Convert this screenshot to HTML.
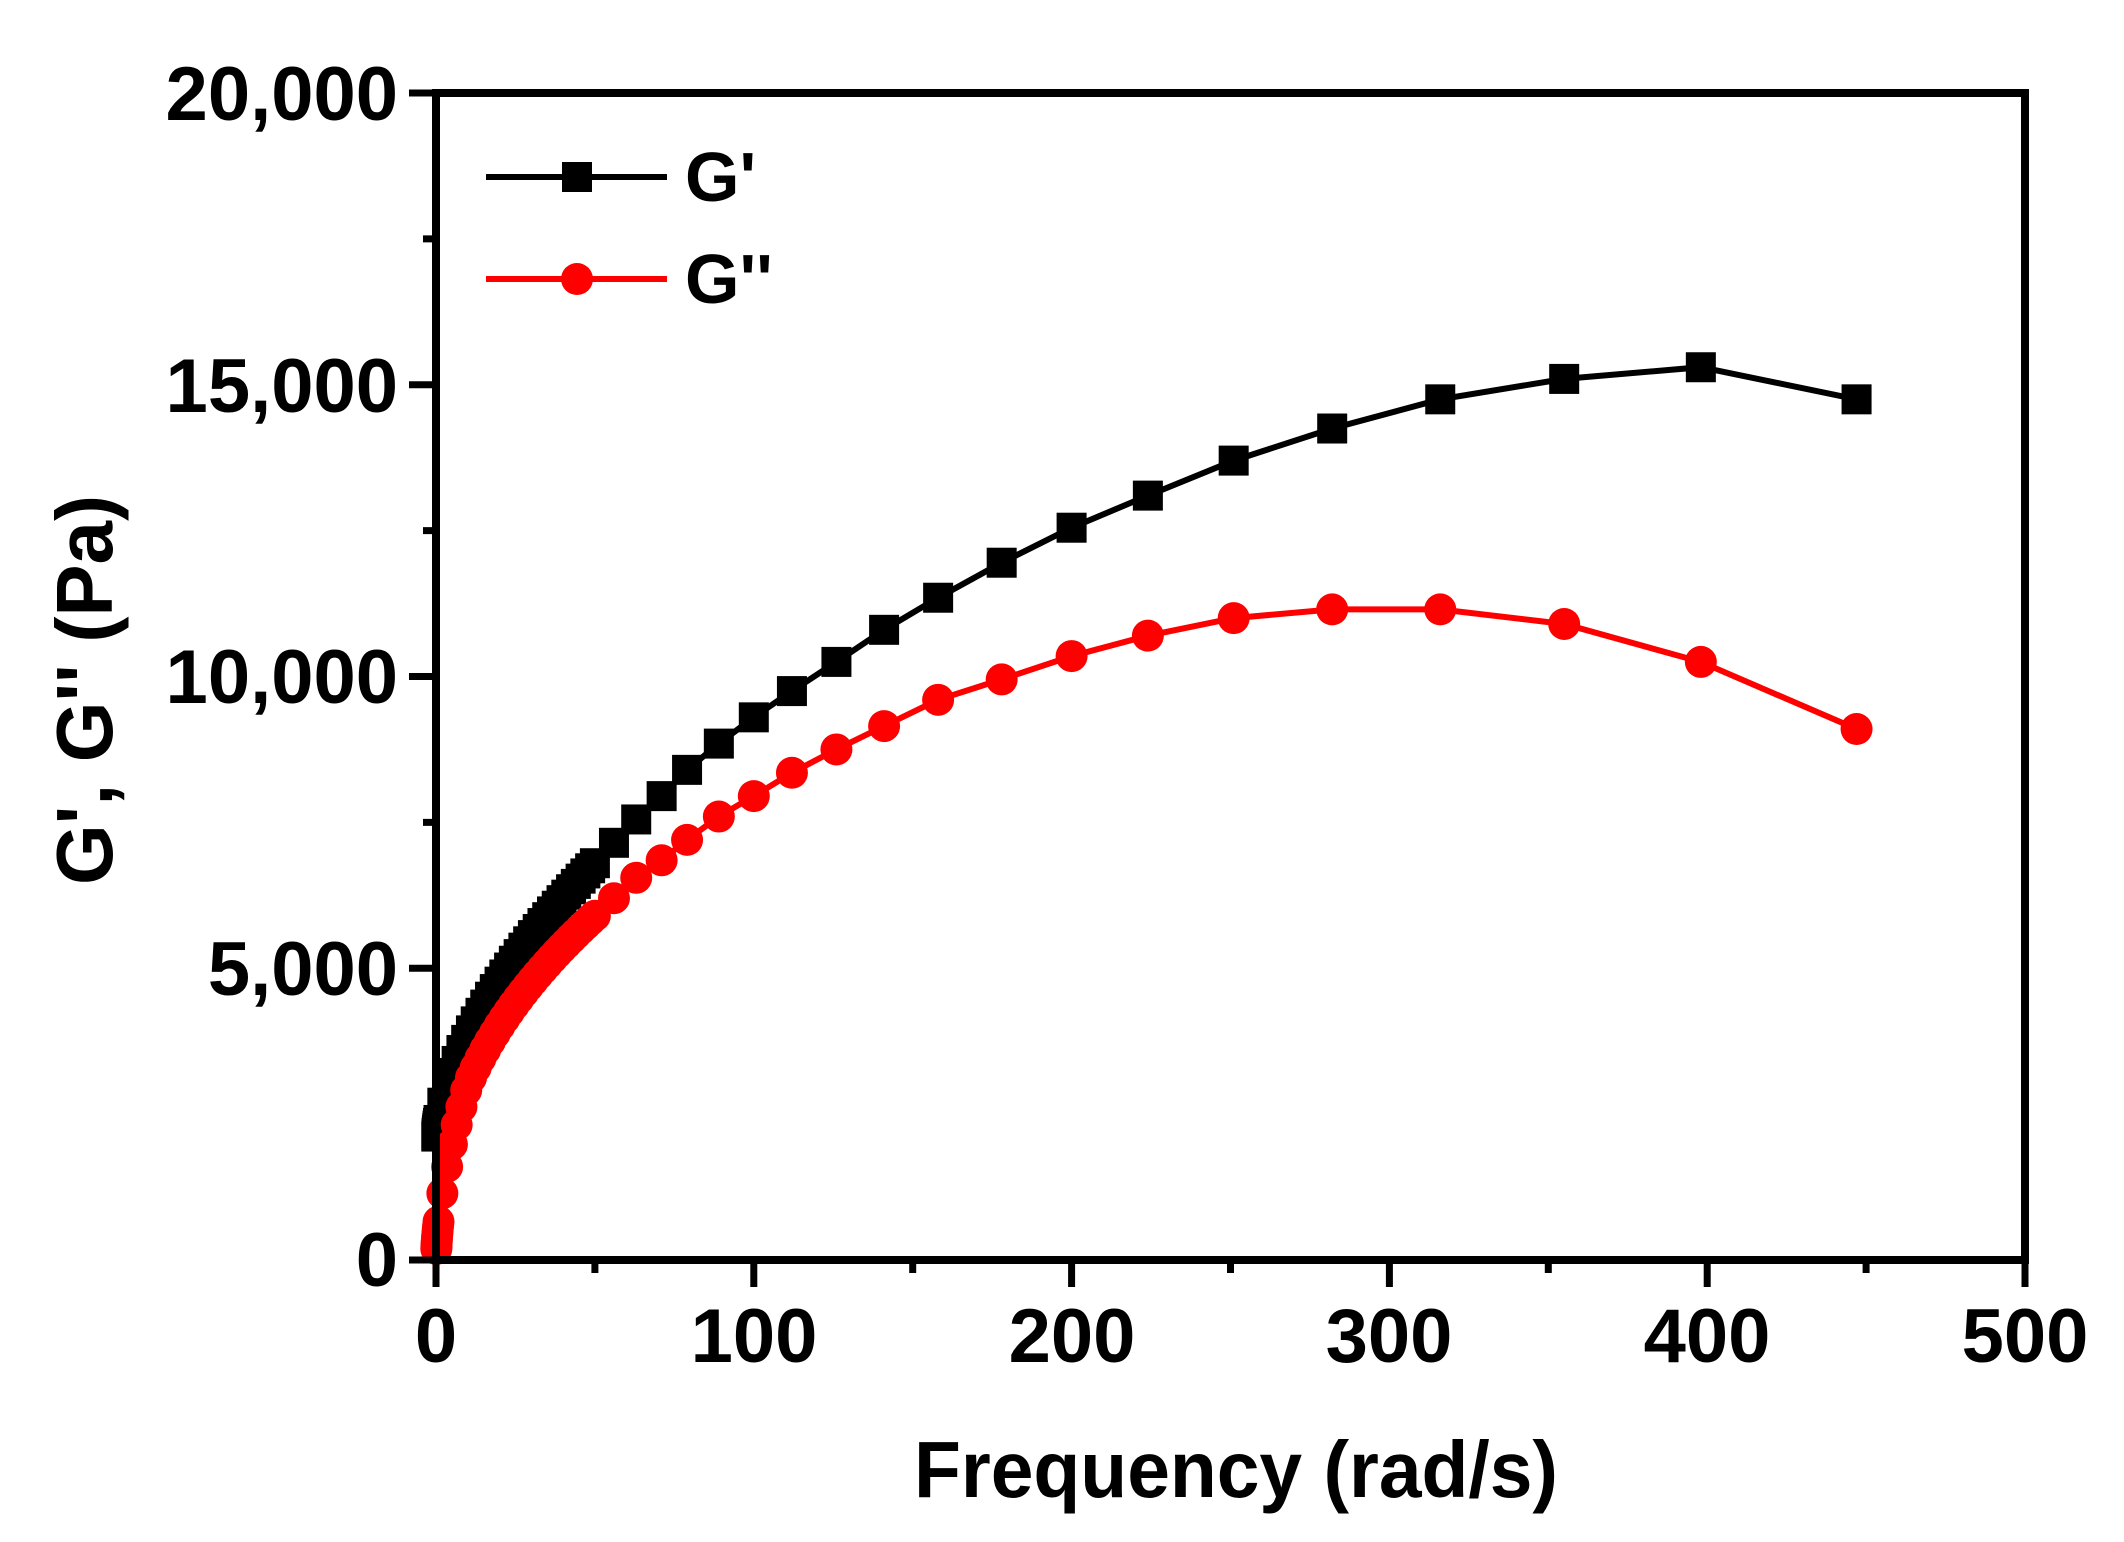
<!DOCTYPE html>
<html><head><meta charset="utf-8"><style>
html,body{margin:0;padding:0;background:#fff;}
svg{display:block;}
text{font-family:"Liberation Sans",Arial,sans-serif;font-weight:bold;fill:#000;}
</style></head><body>
<svg id="s" width="2124" height="1542" viewBox="0 0 2124 1542" xmlns="http://www.w3.org/2000/svg">
<g id="plot"></g>
<rect x="436" y="93" width="1589" height="1167" fill="none" stroke="#000" stroke-width="8"/>
<g id="ticks" stroke="#000" stroke-width="7"></g>
<g font-size="76" text-anchor="end">
<text x="398" y="1286">0</text>
<text x="398" y="995">5,000</text>
<text x="398" y="703">10,000</text>
<text x="398" y="412">15,000</text>
<text x="398" y="120">20,000</text>
</g>
<g font-size="76" text-anchor="middle">
<text x="436" y="1362">0</text>
<text x="754" y="1362">100</text>
<text x="1072" y="1362">200</text>
<text x="1389" y="1362">300</text>
<text x="1707" y="1362">400</text>
<text x="2025" y="1362">500</text>
</g>
<text x="1236" y="1497" font-size="80" text-anchor="middle" textLength="644" lengthAdjust="spacingAndGlyphs">Frequency (rad/s)</text>
<text transform="translate(112,690) rotate(-90)" font-size="80" text-anchor="middle" textLength="390" lengthAdjust="spacingAndGlyphs">G', G'' (Pa)</text>
<line x1="486" y1="177" x2="667" y2="177" stroke="#000" stroke-width="6"/>
<rect x="562" y="162" width="30" height="30" fill="#000"/>
<text x="685" y="201" font-size="70">G'</text>
<line x1="486" y1="279" x2="667" y2="279" stroke="#f00" stroke-width="6"/>
<circle cx="577" cy="279" r="16" fill="#f00"/>
<text x="685" y="303" font-size="70">G''</text>
</svg>
<script>
var ns="http://www.w3.org/2000/svg";
function X(v){return 436+v*3.178;}
function Y(v){return 1260-v*1167/20000;}
var t=document.getElementById('ticks');
function ln(x1,y1,x2,y2){var l=document.createElementNS(ns,'line');l.setAttribute('x1',x1);l.setAttribute('y1',y1);l.setAttribute('x2',x2);l.setAttribute('y2',y2);t.appendChild(l);}
for(var i=0;i<=10;i++){var x=X(i*50);ln(x,1260,x,1260+(i%2?13:27));}
for(var i=0;i<=8;i++){var y=Y(i*2500);ln(436,y,436-(i%2?13:27),y);}
var hiX=[447,398,355,316,282,251,224,200,178,158,141,126,112,100,89,79,71,63,56,50];
var hiG1=[14750,15300,15100,14750,14250,13700,13100,12550,11950,11350,10800,10250,9750,9300,8850,8400,7950,7550,7150,6800];
var hiG2=[9100,10250,10900,11150,11150,11000,10700,10350,9950,9600,9150,8750,8350,7950,7600,7200,6850,6550,6200,5900];
var xs=[],g1=[],g2=[];
for(var i=0;i<hiX.length;i++){xs.push(hiX[i]);g1.push(hiG1[i]);g2.push(hiG2[i]);}
function f1(x){return 2000+4800*Math.pow(x/50,0.6);}
function f2(x){return x>=10?5900*Math.pow(x/50,0.42):3000*Math.pow(x/10,0.6);}
for(var x=48.5;x>=1;x-=1.5){xs.push(x);g1.push(f1(x));g2.push(f2(x));}
for(var k=-1;k>=-10;k--){var x=Math.pow(10,k/10);xs.push(x);g1.push(f1(x));g2.push(f2(x));}
var p=document.getElementById('plot');
function series(ys,col,sq){
 var d='';for(var i=0;i<xs.length;i++){d+=(i?'L':'M')+X(xs[i]).toFixed(1)+' '+Y(ys[i]).toFixed(1);}
 var pa=document.createElementNS(ns,'path');pa.setAttribute('d',d);pa.setAttribute('stroke',col);pa.setAttribute('stroke-width','6');pa.setAttribute('fill','none');p.appendChild(pa);
 for(var i=0;i<xs.length;i++){var e;
  if(sq){e=document.createElementNS(ns,'rect');e.setAttribute('x',X(xs[i])-15);e.setAttribute('y',Y(ys[i])-15);e.setAttribute('width',30);e.setAttribute('height',30);}
  else{e=document.createElementNS(ns,'circle');e.setAttribute('cx',X(xs[i]));e.setAttribute('cy',Y(ys[i]));e.setAttribute('r',16);}
  e.setAttribute('fill',col);p.appendChild(e);}
}
series(g1,'#000',true);
series(g2,'#f00',false);
</script>
</body></html>
